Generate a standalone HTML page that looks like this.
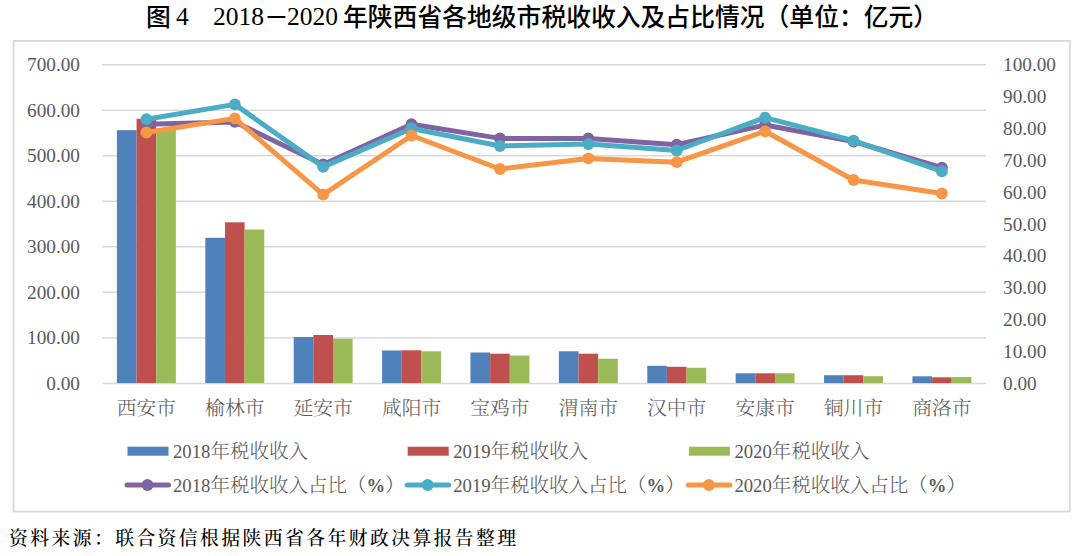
<!DOCTYPE html><html><head><meta charset="utf-8"><title>图4 2018－2020年陕西省各地级市税收收入及占比情况</title><style>
html,body{margin:0;padding:0;background:#fff;}
body{width:1080px;height:556px;overflow:hidden;position:relative;}
svg{position:absolute;left:0;top:0;display:block;}
.ax{font-family:'Liberation Serif', 'Noto Serif CJK SC', serif;font-size:18.70px;fill:#595959;}
.ti{font-family:"Liberation Serif","Noto Sans CJK SC",sans-serif;font-size:25.5px;fill:#000;}
.tc{font-family:"Liberation Sans","Noto Sans CJK SC",sans-serif;font-size:24.8px;font-weight:500;fill:#000;}
.cj{font-family:"Liberation Serif","Noto Serif CJK SC",serif;font-size:19.8px;font-weight:300;fill:#595959;}
.lg{font-size:19.5px;}
.pc{font-family:"Liberation Serif",serif;font-size:18.7px;font-weight:bold;}
.src{font-family:"Liberation Serif","Noto Serif CJK SC",serif;font-size:18.8px;letter-spacing:2.45px;font-weight:500;fill:#000;}
</style></head><body>
<svg width="1080" height="556" viewBox="0 0 1080 556">
<text class="tc" x="146" y="25.8">图</text>
<text class="ti" x="176" y="25.3">4</text>
<text class="ti" x="213" y="25.3">2018</text>
<text class="tc" x="264" y="25.8">－</text>
<text class="ti" x="287" y="25.3">2020</text>
<text class="tc" x="343" y="25.8">年陕西省各地级市税收收入及占比情况（单位：亿元）</text>
<rect x="13.6" y="40.9" width="1056.2" height="470.6" fill="#fff" stroke="#D9D9D9" stroke-width="1.8"/>
<line x1="102.20" y1="383.40" x2="986.10" y2="383.40" stroke="#D9D9D9" stroke-width="1.5"/>
<line x1="102.20" y1="337.89" x2="986.10" y2="337.89" stroke="#D9D9D9" stroke-width="1.5"/>
<line x1="102.20" y1="292.37" x2="986.10" y2="292.37" stroke="#D9D9D9" stroke-width="1.5"/>
<line x1="102.20" y1="246.86" x2="986.10" y2="246.86" stroke="#D9D9D9" stroke-width="1.5"/>
<line x1="102.20" y1="201.34" x2="986.10" y2="201.34" stroke="#D9D9D9" stroke-width="1.5"/>
<line x1="102.20" y1="155.83" x2="986.10" y2="155.83" stroke="#D9D9D9" stroke-width="1.5"/>
<line x1="102.20" y1="110.31" x2="986.10" y2="110.31" stroke="#D9D9D9" stroke-width="1.5"/>
<line x1="102.20" y1="64.80" x2="986.10" y2="64.80" stroke="#D9D9D9" stroke-width="1.5"/>
<text class="ax" x="80" y="389.80" text-anchor="end" textLength="33.71" lengthAdjust="spacingAndGlyphs">0.00</text>
<text class="ax" x="80" y="344.29" text-anchor="end" textLength="52.97" lengthAdjust="spacingAndGlyphs">100.00</text>
<text class="ax" x="80" y="298.77" text-anchor="end" textLength="52.97" lengthAdjust="spacingAndGlyphs">200.00</text>
<text class="ax" x="80" y="253.26" text-anchor="end" textLength="52.97" lengthAdjust="spacingAndGlyphs">300.00</text>
<text class="ax" x="80" y="207.74" text-anchor="end" textLength="52.97" lengthAdjust="spacingAndGlyphs">400.00</text>
<text class="ax" x="80" y="162.23" text-anchor="end" textLength="52.97" lengthAdjust="spacingAndGlyphs">500.00</text>
<text class="ax" x="80" y="116.71" text-anchor="end" textLength="52.97" lengthAdjust="spacingAndGlyphs">600.00</text>
<text class="ax" x="80" y="71.20" text-anchor="end" textLength="52.97" lengthAdjust="spacingAndGlyphs">700.00</text>
<text class="ax" x="1003" y="389.80" textLength="33.71" lengthAdjust="spacingAndGlyphs">0.00</text>
<text class="ax" x="1003" y="357.94" textLength="43.34" lengthAdjust="spacingAndGlyphs">10.00</text>
<text class="ax" x="1003" y="326.08" textLength="43.34" lengthAdjust="spacingAndGlyphs">20.00</text>
<text class="ax" x="1003" y="294.22" textLength="43.34" lengthAdjust="spacingAndGlyphs">30.00</text>
<text class="ax" x="1003" y="262.36" textLength="43.34" lengthAdjust="spacingAndGlyphs">40.00</text>
<text class="ax" x="1003" y="230.50" textLength="43.34" lengthAdjust="spacingAndGlyphs">50.00</text>
<text class="ax" x="1003" y="198.64" textLength="43.34" lengthAdjust="spacingAndGlyphs">60.00</text>
<text class="ax" x="1003" y="166.78" textLength="43.34" lengthAdjust="spacingAndGlyphs">70.00</text>
<text class="ax" x="1003" y="134.92" textLength="43.34" lengthAdjust="spacingAndGlyphs">80.00</text>
<text class="ax" x="1003" y="103.06" textLength="43.34" lengthAdjust="spacingAndGlyphs">90.00</text>
<text class="ax" x="1003" y="71.20" textLength="52.97" lengthAdjust="spacingAndGlyphs">100.00</text>
<rect x="116.93" y="130.20" width="19.64" height="252.80" fill="#4F81BD"/>
<rect x="136.57" y="118.80" width="19.64" height="264.20" fill="#C0504D"/>
<rect x="156.22" y="128.50" width="19.64" height="254.50" fill="#9BBB59"/>
<rect x="205.32" y="237.80" width="19.64" height="145.20" fill="#4F81BD"/>
<rect x="224.96" y="222.30" width="19.64" height="160.70" fill="#C0504D"/>
<rect x="244.61" y="229.50" width="19.64" height="153.50" fill="#9BBB59"/>
<rect x="293.71" y="337.00" width="19.64" height="46.00" fill="#4F81BD"/>
<rect x="313.35" y="335.00" width="19.64" height="48.00" fill="#C0504D"/>
<rect x="333.00" y="338.70" width="19.64" height="44.30" fill="#9BBB59"/>
<rect x="382.10" y="350.50" width="19.64" height="32.50" fill="#4F81BD"/>
<rect x="401.74" y="350.30" width="19.64" height="32.70" fill="#C0504D"/>
<rect x="421.39" y="351.30" width="19.64" height="31.70" fill="#9BBB59"/>
<rect x="470.49" y="352.50" width="19.64" height="30.50" fill="#4F81BD"/>
<rect x="490.13" y="353.70" width="19.64" height="29.30" fill="#C0504D"/>
<rect x="509.78" y="355.50" width="19.64" height="27.50" fill="#9BBB59"/>
<rect x="558.88" y="351.30" width="19.64" height="31.70" fill="#4F81BD"/>
<rect x="578.52" y="353.70" width="19.64" height="29.30" fill="#C0504D"/>
<rect x="598.17" y="358.70" width="19.64" height="24.30" fill="#9BBB59"/>
<rect x="647.27" y="365.80" width="19.64" height="17.20" fill="#4F81BD"/>
<rect x="666.91" y="366.80" width="19.64" height="16.20" fill="#C0504D"/>
<rect x="686.56" y="367.80" width="19.64" height="15.20" fill="#9BBB59"/>
<rect x="735.66" y="373.30" width="19.64" height="9.70" fill="#4F81BD"/>
<rect x="755.30" y="373.30" width="19.64" height="9.70" fill="#C0504D"/>
<rect x="774.95" y="373.30" width="19.64" height="9.70" fill="#9BBB59"/>
<rect x="824.05" y="375.20" width="19.64" height="7.80" fill="#4F81BD"/>
<rect x="843.69" y="375.20" width="19.64" height="7.80" fill="#C0504D"/>
<rect x="863.34" y="376.20" width="19.64" height="6.80" fill="#9BBB59"/>
<rect x="912.44" y="376.30" width="19.64" height="6.70" fill="#4F81BD"/>
<rect x="932.08" y="377.30" width="19.64" height="5.70" fill="#C0504D"/>
<rect x="951.73" y="377.00" width="19.64" height="6.00" fill="#9BBB59"/>
<text class="cj" x="146.40" y="414.5" text-anchor="middle">西安市</text>
<text class="cj" x="234.79" y="414.5" text-anchor="middle">榆林市</text>
<text class="cj" x="323.18" y="414.5" text-anchor="middle">延安市</text>
<text class="cj" x="411.56" y="414.5" text-anchor="middle">咸阳市</text>
<text class="cj" x="499.95" y="414.5" text-anchor="middle">宝鸡市</text>
<text class="cj" x="588.35" y="414.5" text-anchor="middle">渭南市</text>
<text class="cj" x="676.74" y="414.5" text-anchor="middle">汉中市</text>
<text class="cj" x="765.12" y="414.5" text-anchor="middle">安康市</text>
<text class="cj" x="853.52" y="414.5" text-anchor="middle">铜川市</text>
<text class="cj" x="941.91" y="414.5" text-anchor="middle">商洛市</text>
<polyline points="146.40,124.20 234.79,121.90 323.18,164.50 411.56,124.20 499.95,138.40 588.35,138.50 676.74,144.70 765.12,125.00 853.52,141.50 941.91,167.70" fill="none" stroke="#8064A2" stroke-width="5.00" stroke-linejoin="round" stroke-linecap="round"/>
<circle cx="146.40" cy="124.20" r="5.90" fill="#8064A2"/>
<circle cx="234.79" cy="121.90" r="5.90" fill="#8064A2"/>
<circle cx="323.18" cy="164.50" r="5.90" fill="#8064A2"/>
<circle cx="411.56" cy="124.20" r="5.90" fill="#8064A2"/>
<circle cx="499.95" cy="138.40" r="5.90" fill="#8064A2"/>
<circle cx="588.35" cy="138.50" r="5.90" fill="#8064A2"/>
<circle cx="676.74" cy="144.70" r="5.90" fill="#8064A2"/>
<circle cx="765.12" cy="125.00" r="5.90" fill="#8064A2"/>
<circle cx="853.52" cy="141.50" r="5.90" fill="#8064A2"/>
<circle cx="941.91" cy="167.70" r="5.90" fill="#8064A2"/>
<polyline points="146.40,119.20 234.79,104.40 323.18,166.90 411.56,128.50 499.95,146.00 588.35,144.00 676.74,150.50 765.12,117.60 853.52,140.70 941.91,171.40" fill="none" stroke="#4BACC6" stroke-width="5.00" stroke-linejoin="round" stroke-linecap="round"/>
<circle cx="146.40" cy="119.20" r="5.90" fill="#4BACC6"/>
<circle cx="234.79" cy="104.40" r="5.90" fill="#4BACC6"/>
<circle cx="323.18" cy="166.90" r="5.90" fill="#4BACC6"/>
<circle cx="411.56" cy="128.50" r="5.90" fill="#4BACC6"/>
<circle cx="499.95" cy="146.00" r="5.90" fill="#4BACC6"/>
<circle cx="588.35" cy="144.00" r="5.90" fill="#4BACC6"/>
<circle cx="676.74" cy="150.50" r="5.90" fill="#4BACC6"/>
<circle cx="765.12" cy="117.60" r="5.90" fill="#4BACC6"/>
<circle cx="853.52" cy="140.70" r="5.90" fill="#4BACC6"/>
<circle cx="941.91" cy="171.40" r="5.90" fill="#4BACC6"/>
<polyline points="146.40,132.50 234.79,118.40 323.18,194.60 411.56,135.50 499.95,169.00 588.35,158.40 676.74,162.20 765.12,131.30 853.52,180.00 941.91,193.50" fill="none" stroke="#F79646" stroke-width="5.00" stroke-linejoin="round" stroke-linecap="round"/>
<circle cx="146.40" cy="132.50" r="5.90" fill="#F79646"/>
<circle cx="234.79" cy="118.40" r="5.90" fill="#F79646"/>
<circle cx="323.18" cy="194.60" r="5.90" fill="#F79646"/>
<circle cx="411.56" cy="135.50" r="5.90" fill="#F79646"/>
<circle cx="499.95" cy="169.00" r="5.90" fill="#F79646"/>
<circle cx="588.35" cy="158.40" r="5.90" fill="#F79646"/>
<circle cx="676.74" cy="162.20" r="5.90" fill="#F79646"/>
<circle cx="765.12" cy="131.30" r="5.90" fill="#F79646"/>
<circle cx="853.52" cy="180.00" r="5.90" fill="#F79646"/>
<circle cx="941.91" cy="193.50" r="5.90" fill="#F79646"/>
<rect x="127.50" y="446.7" width="41" height="9" fill="#4F81BD"/>
<text class="ax" x="173.00" y="457.7">2018<tspan class="cj lg">年税收收入</tspan></text>
<line x1="127.00" y1="485" x2="168.50" y2="485" stroke="#8064A2" stroke-width="5.00" stroke-linecap="round"/>
<circle cx="147.50" cy="485" r="5.90" fill="#8064A2"/>
<text class="ax" x="173.00" y="492.2">2018<tspan class="cj lg">年税收收入占比（</tspan><tspan class="pc">%</tspan><tspan class="cj lg">）</tspan></text>
<rect x="407.70" y="446.7" width="41" height="9" fill="#C0504D"/>
<text class="ax" x="453.20" y="457.7">2019<tspan class="cj lg">年税收收入</tspan></text>
<line x1="407.20" y1="485" x2="448.70" y2="485" stroke="#4BACC6" stroke-width="5.00" stroke-linecap="round"/>
<circle cx="427.70" cy="485" r="5.90" fill="#4BACC6"/>
<text class="ax" x="453.20" y="492.2">2019<tspan class="cj lg">年税收收入占比（</tspan><tspan class="pc">%</tspan><tspan class="cj lg">）</tspan></text>
<rect x="688.90" y="446.7" width="41" height="9" fill="#9BBB59"/>
<text class="ax" x="734.40" y="457.7">2020<tspan class="cj lg">年税收收入</tspan></text>
<line x1="688.40" y1="485" x2="729.90" y2="485" stroke="#F79646" stroke-width="5.00" stroke-linecap="round"/>
<circle cx="708.90" cy="485" r="5.90" fill="#F79646"/>
<text class="ax" x="734.40" y="492.2">2020<tspan class="cj lg">年税收收入占比（</tspan><tspan class="pc">%</tspan><tspan class="cj lg">）</tspan></text>
<text class="src" x="9" y="545.4">资料来源：联合资信根据陕西省各年财政决算报告整理</text>
</svg></body></html>
